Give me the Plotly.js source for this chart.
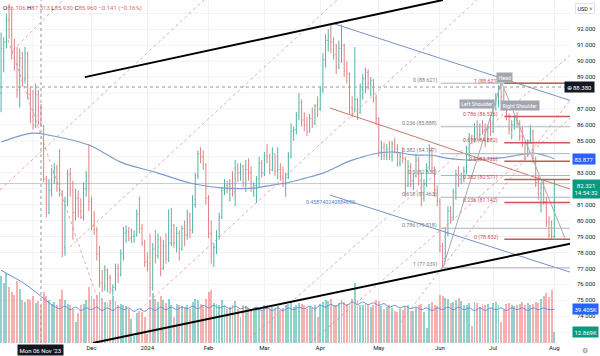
<!DOCTYPE html>
<html><head><meta charset="utf-8">
<script src="https://cdn.plot.ly/plotly-3.0.1.min.js"></script>
<style>html,body{margin:0;padding:0;background:#fff;}#chart{width:600px;height:356px;}</style>
</head><body><div id="chart"></div>
<script>
// ---------- DATA (daily bars from Mon 16 Oct 2023, weekdays) ----------
const openP = [
88.0,90.8,91.2,92.6,92.0,90.6,89.8,88.2,90.2,88.9,
90.5,87.9,86.5,86.0,87.9,86.106,85.9,82.6,80.5,81.9,
83.0,83.3,82.3,81.8,78.3,81.2,82.9,81.9,80.5,81.4,
80.6,80.2,82.0,82.8,81.2,79.7,79.4,77.9,76.1,75.9,
76.9,76.4,75.6,75.8,77.0,76.6,77.9,79.2,79.3,78.9,
79.0,79.1,80.4,79.5,78.6,77.4,77.3,75.8,78.2,77.8,
78.8,77.0,78.4,77.6,78.6,79.7,78.6,79.2,78.2,79.5,
79.1,80.4,79.4,81.0,82.8,84.2,84.0,83.5,81.4,79.2,
77.9,78.3,79.0,80.2,81.9,82.2,82.0,82.3,81.8,83.3,
83.0,83.4,82.4,83.2,83.0,82.0,82.2,82.6,83.6,83.0,
84.1,84.0,83.2,84.2,83.1,83.2,82.8,82.3,82.7,84.0,
85.6,85.7,86.6,87.4,86.3,86.0,85.6,86.4,86.1,87.2,
87.0,88.2,90.1,91.3,91.6,91.2,90.4,89.6,90.8,91.0,
89.4,89.2,87.1,87.0,87.6,86.8,88.2,88.9,89.3,88.6,
88.8,87.7,86.4,84.3,84.6,84.1,84.5,84.0,84.8,84.5,
83.6,84.0,83.9,82.2,83.4,82.5,82.8,83.8,82.5,81.4,
82.3,83.3,84.4,83.3,81.9,81.2,78.4,77.6,79.2,80.6,
80.2,81.8,82.9,82.6,82.8,83.1,84.5,85.2,85.1,85.9,
85.4,85.9,85.7,85.0,85.8,85.6,87.3,87.5,88.3,87.8,
87.2,86.6,85.7,86.0,86.3,86.1,85.3,84.9,84.2,85.0,
85.6,83.9,82.4,81.7,82.1,81.2,79.9,79.1,79.0];
const highP = [
91.8,91.5,93.0,93.6,93.3,91.4,90.9,90.8,90.6,90.9,
90.6,88.4,88.2,88.6,88.2,87.313,86.0,82.8,82.6,83.3,
83.6,83.5,84.5,81.9,81.5,83.2,83.3,82.5,82.0,81.9,
81.4,82.4,83.1,84.8,81.5,80.6,79.6,78.4,76.9,77.2,
77.0,76.6,76.0,77.3,77.3,78.2,79.6,79.7,79.6,79.5,
79.4,80.7,81.5,79.8,78.8,78.0,79.2,78.6,79.4,79.2,
79.0,78.8,79.2,80.7,80.8,79.8,79.6,79.4,79.7,80.0,
80.7,80.5,81.6,83.0,84.4,84.6,84.4,83.6,81.6,80.0,
78.6,79.4,80.5,82.1,82.6,82.5,82.6,83.1,83.8,83.6,
83.6,83.5,83.8,83.9,83.4,82.4,82.8,84.0,83.8,84.3,
84.8,84.2,84.6,84.2,84.6,83.6,83.4,83.0,84.3,86.1,
85.9,86.8,88.0,87.6,86.8,86.5,86.7,87.1,87.3,87.8,
88.4,90.5,91.7,92.0,92.4,91.5,91.1,91.3,92.3,91.1,
90.0,89.3,87.8,90.9,87.7,88.6,89.2,89.6,89.5,89.0,
88.9,87.9,86.5,85.0,84.9,84.8,85.0,85.0,85.2,84.8,
84.3,84.6,84.0,83.8,83.6,83.0,84.2,84.0,83.0,82.6,
83.6,84.8,84.6,83.4,82.2,81.4,78.6,79.6,80.9,80.9,
82.0,83.2,83.4,83.0,83.4,84.7,85.5,85.4,86.1,86.3,
86.1,86.3,86.1,86.0,86.5,87.6,88.0,88.5,88.621,88.3,
87.3,86.7,86.3,86.6,86.8,86.3,85.9,85.0,85.1,86.0,
85.7,84.0,82.8,82.4,82.6,81.5,80.3,80.0,82.6];
const lowP = [
86.8,89.3,90.8,91.4,90.1,89.4,87.7,87.1,88.4,88.6,
87.6,86.1,85.7,85.8,86.0,85.930,82.4,80.2,80.4,81.5,
82.3,81.8,81.5,77.7,77.8,80.9,81.5,78.8,80.0,80.2,
80.1,80.0,81.5,80.6,79.4,79.1,77.5,75.8,75.5,75.6,
75.5,75.4,75.3,75.6,76.1,76.5,77.5,78.6,78.7,78.6,
78.6,79.0,79.2,78.4,77.1,76.8,75.2,75.6,77.3,77.6,
76.5,76.9,77.3,77.4,78.4,78.3,78.0,77.5,78.1,78.4,
78.8,78.9,79.2,80.8,82.6,83.6,83.2,81.0,78.9,77.3,
77.1,77.9,78.8,80.1,81.6,81.7,81.2,81.5,80.9,82.4,
82.5,82.1,81.8,82.5,81.8,81.5,81.1,82.1,82.7,82.8,
83.6,82.9,83.1,82.8,82.6,82.5,82.1,81.5,82.6,83.9,
85.0,85.4,86.3,85.9,85.6,85.3,85.5,85.8,86.0,86.5,
86.9,88.0,89.6,90.6,90.5,90.1,89.2,89.5,89.9,89.0,
88.6,86.7,86.5,86.8,86.3,86.7,87.6,88.0,88.2,87.8,
87.4,86.0,84.0,83.8,83.8,83.8,83.8,83.7,84.2,83.4,
83.4,83.6,81.5,82.1,82.1,81.9,82.7,82.2,80.9,81.2,
82.1,83.2,83.0,81.5,80.9,78.0,77.039,77.4,79.0,79.8,
80.0,81.3,82.1,82.3,82.4,82.9,84.0,84.8,84.9,85.0,
85.0,85.4,84.6,84.9,85.3,85.5,86.9,87.1,87.5,86.9,
86.3,85.4,85.1,85.7,85.8,85.0,84.6,83.8,84.0,84.8,
83.6,82.1,81.3,80.5,81.0,79.6,78.9,78.832,78.9];
const closeP = [
90.8,91.2,92.6,92.0,90.6,89.8,88.2,90.2,88.9,90.5,
87.9,86.5,86.0,87.9,86.1,85.960,82.6,80.5,81.9,83.0,
83.3,82.3,81.9,78.3,81.2,82.9,81.9,80.5,81.4,80.6,
80.2,82.0,82.8,81.2,79.7,79.4,77.9,76.1,75.9,76.9,
76.4,75.6,75.8,77.0,76.6,77.9,79.2,79.3,78.9,79.0,
79.1,80.4,79.5,78.6,77.4,77.2,75.8,78.2,77.8,78.8,
77.0,78.4,77.6,78.6,79.7,78.6,79.2,78.2,79.5,79.1,
80.4,79.4,81.0,82.8,84.2,84.0,83.5,81.4,79.2,77.9,
78.3,79.0,80.2,81.9,82.2,82.0,82.3,81.8,83.3,83.0,
83.4,82.4,83.2,83.0,82.0,82.2,82.6,83.6,83.0,84.1,
84.0,83.2,84.2,83.1,83.2,82.8,82.3,82.7,84.0,85.6,
85.7,86.6,87.4,86.3,86.0,85.6,86.4,86.1,87.2,87.0,
88.2,90.1,91.3,91.6,91.2,90.4,89.6,90.8,91.0,89.4,
89.2,87.1,87.0,87.6,86.8,88.2,88.9,89.3,88.6,88.8,
87.7,86.4,84.3,84.6,84.1,84.5,84.0,84.8,84.5,83.6,
84.0,83.9,82.2,83.4,82.5,82.8,83.8,82.5,81.4,82.3,
83.3,84.4,83.3,81.9,81.2,78.4,77.6,79.2,80.6,80.2,
81.8,82.9,82.6,82.8,83.1,84.5,85.2,85.1,85.9,85.4,
85.9,85.7,85.0,85.8,85.6,87.3,87.5,88.3,87.8,87.2,
86.6,85.7,86.0,86.3,86.1,85.3,84.9,84.2,85.0,85.6,
83.9,82.4,81.7,82.1,81.2,79.9,79.1,79.0,82.321];
const volumeK = [
78,70,82,65,60,56,72,63,50,48,
52,50,55,47,49,45,60,55,50,46,
48,44,52,62,50,46,44,40,25,35,
44,46,50,65,55,52,56,60,53,48,
47,50,55,49,45,46,44,43,40,28,
8,35,38,36,30,10,50,58,52,48,
55,50,47,52,45,30,46,44,43,42,
45,40,48,52,50,46,44,52,60,62,
47,46,45,50,44,40,42,45,49,40,
30,44,43,41,40,38,42,41,39,45,
44,40,42,41,43,39,41,45,46,48,
42,44,47,46,45,40,42,41,44,30,
46,48,50,49,52,44,45,47,50,48,
46,47,52,70,50,44,45,47,46,42,
45,50,49,43,40,42,44,41,38,36,
40,39,42,44,38,37,41,44,46,36,
18,46,48,45,43,56,55,53,52,47,
48,50,53,49,44,45,47,20,48,47,
42,46,45,46,41,47,48,44,25,40,
46,47,45,43,44,46,48,44,47,45,
46,48,47,52,55,58,54,62,12.869];
// price moving average read at sample bars
const maIdx = [0,12,18,33,45,59,71,83,90,96,102,107,114,121,126,130,136,142,148,155,162,168,175,181,188,194,200,204,208];
const maVal = [84.93,85.49,85.36,84.74,83.67,82.98,82.36,82.05,82.0,82.05,82.23,82.36,82.65,82.98,83.35,83.67,84.0,84.24,84.3,84.12,84.1,83.9,83.8,83.85,83.93,84.1,84.24,84.1,83.877];
// volume moving average (K) read at sample bars
const vmaIdx = [0,4,8,12,16,18,20,22,24,26,28,30,32,34,36,38,40,42,44,46,48,50,52,54,56,58,60,62,64,66,68,70,72,74,76,78,80,82,84,86,88,90,92,94,96,98,100,102,104,106,108,110,112,114,116,118,120,122,124,126,128,130,132,134,136,138,140,142,144,146,148,150,152,154,156,158,160,162,164,166,168,170,172,174,176,178,180,182,184,186,188,190,192,194,196,198,200,202,204,206,208];
const vmaVal = [85,78,71,62,52,47,43,40,43,39,42,38,41,39,42,38,41,38,42,39,41,37,40,37,41,38,42,39,42,39,42,40,43,40,44,41,44,41,43,40,43,40,42,39,42,38,41,38,41,38,41,39,42,40,43,40,44,42,45,43,47,44,48,45,48,45,47,44,46,42,44,41,43,40,42,39,41,38,41,39,42,39,42,39,41,38,41,38,41,39,41,38,41,39,41,38,41,39,41,39,39.405];
const monthTickIdx = [34,55,78,99,120,142,165,185,208];
const monthTickText = ['Dec','2024','Feb','Mar','Apr','May','Jun','Jul','Aug'];
const priceTicks = [74,75,76,77,78,79,80,81,83,85,86,87,89,90,91,92];
const priceGrid = [73,74,75,76,77,78,79,80,81,82,83,84,85,86,87,88,89,90,91,92,93];
// drawings: [barIndexA, priceA, barIndexB, priceB]
const channelLines = [[31.5,89.0,166.1,93.84],[34.5,72.32,215,78.66]];
const blueLines = [[125.5,92.33,215,87.37],[123.7,81.6,215,76.6]];
const redTrend = [[123.7,87.06,215,81.8]];
const greyLines = [[166.1,77.039,188,88.621],[188.3,88.621,212,78.9]];
const dashedLines = [[-0.41,81.93,76.3,93.84],[25.9,78.35,126.3,93.84],[52.2,74.4,178.9,93.84],
  [91.7,72.32,225,92.9],[116.1,72.32,225,88.88],[150,73.58,214,87.57],[4.5,90.7,23.3,93.84],[2.6,91.33,36.4,75.03]];
const fibLevels = [0,0.236,0.382,0.5,0.618,0.786,1];
const fibLeft = {p0:88.621, p1:77.039, from:165.3, label:164.6};
const fibRight = {p0:78.832, p1:88.621, from:189.2, label:187.6};
const crossIdx = 15, crossPrice = 88.38;
const lastPrice = 82.321, lastMA = 83.877, lastVolMA = 39.405, lastVol = 12.869;

// ---------- helpers ----------
const DAY = 86400000, firstBar = Date.UTC(2023,9,16);
function weekdayMs(k){let d=firstBar,n=0;
  if(k>=0){while(n<k){d+=DAY;const w=new Date(d).getUTCDay();if(w!==0&&w!==6)n++;}}
  else{while(n>k){d-=DAY;const w=new Date(d).getUTCDay();if(w!==0&&w!==6)n--;}}
  return d;}
function tDate(t){const k=Math.floor(t);return new Date(weekdayMs(k)+(t-k)*DAY).toISOString().replace('T',' ').slice(0,19);}
const bx = i => tDate(i+0.5);
const xs = openP.map((_,i)=>bx(i));
const up = closeP.map((c,i)=>c>=openP[i]);

const FONT = "Roboto, 'Liberation Sans', sans-serif";
const shapes = [];
priceGrid.forEach(p=>shapes.push({type:'line',xref:'paper',yref:'y',x0:0,x1:1,y0:p,y1:p,line:{color:'#f0f2f6',width:1},layer:'below'}));
shapes.push({type:'line',xref:'x',yref:'paper',x0:bx(12),x1:bx(12),y0:0,y1:1,line:{color:'#f0f2f6',width:1},layer:'below'});
function seg(a,line){shapes.push({type:'line',xref:'x',yref:'y',x0:bx(a[0]),y0:a[1],x1:bx(a[2]),y1:a[3],line:line,layer:'above'});}
dashedLines.forEach(a=>seg(a,{color:'rgba(220,130,145,0.7)',width:1,dash:'3px,3px'}));
greyLines.forEach(a=>seg(a,{color:'#a5a9b0',width:1}));
blueLines.forEach(a=>seg(a,{color:'#7492c8',width:1}));
redTrend.forEach(a=>seg(a,{color:'#c9776d',width:1}));
shapes.push({type:'line',xref:'paper',yref:'y',x0:0,x1:1,y0:lastPrice,y1:lastPrice,line:{color:'rgba(120,150,170,0.5)',width:1},layer:'above'});
shapes.push({type:'line',xref:'paper',yref:'y',x0:0,x1:1,y0:crossPrice,y1:crossPrice,line:{color:'#9598a1',width:1,dash:'3px,3px'},layer:'above'});
shapes.push({type:'line',xref:'x',yref:'paper',x0:bx(crossIdx),x1:bx(crossIdx),y0:0,y1:1,line:{color:'#9598a1',width:1,dash:'3px,3px'},layer:'above'});
const annotations = [];
fibLevels.forEach(l=>{
  const pl = fibLeft.p0 + l*(fibLeft.p1-fibLeft.p0);
  seg([fibLeft.from,pl,216,pl],{color:'#b0b3ba',width:1});
  annotations.push({x:bx(fibLeft.label),y:pl,xref:'x',yref:'y',text:`${l} (${pl.toFixed(3)})`,showarrow:false,xanchor:'right',yanchor:'middle',yshift:3,font:{family:FONT,size:5.3,color:'#7a7d87'}});
});
annotations.push({x:bx(179),y:87.3,xref:'x',yref:'y',text:'Left Shoulder',showarrow:false,bgcolor:'#a3a6af',borderpad:1.2,font:{family:FONT,size:5.3,color:'#fff'}});
fibLevels.forEach(l=>{
  const pr = fibRight.p0 + l*(fibRight.p1-fibRight.p0);
  seg([fibRight.from,pr,216,pr],{color:'#cd5656',width:1.5});
  annotations.push({x:bx(fibRight.label),y:pr,xref:'x',yref:'y',text:`${l} (${pr.toFixed(3)})`,showarrow:false,xanchor:'right',yanchor:'middle',yshift:2,font:{family:FONT,size:5.3,color:'#c94c4c'}});
});
channelLines.forEach(a=>seg(a,{color:'#000',width:2}));
annotations.push({x:bx(189.4),y:89.0,xref:'x',yref:'y',text:'Head',showarrow:false,bgcolor:'#a3a6af',borderpad:1.5,font:{family:FONT,size:5.3,color:'#fff'}});
annotations.push({x:bx(195.1),y:87.25,xref:'x',yref:'y',text:'Right Shoulder',showarrow:false,bgcolor:'#a3a6af',borderpad:1.5,font:{family:FONT,size:5.3,color:'#fff'}});
annotations.push({x:bx(123.7),y:81.15,xref:'x',yref:'y',text:'0.458740240884690',showarrow:false,font:{family:FONT,size:5.3,color:'#5b7fc0'}});
annotations.push({x:0,y:1,xref:'paper',yref:'paper',xanchor:'left',yanchor:'top',xshift:1,yshift:-2,showarrow:false,
  text:'<span style="color:#131722">O</span>86.106 <span style="color:#131722">H</span>87.313 <span style="color:#131722">L</span>85.930 <span style="color:#131722">C</span>85.960 −0.141 (−0.16%)',
  font:{family:FONT,size:6,color:'#e0666a'}});
function rlabel(y,yref,text,bg,extra){annotations.push(Object.assign({x:1,y:y,xref:'paper',yref:yref,xanchor:'left',yanchor:'middle',xshift:2,showarrow:false,text:text,bgcolor:bg,borderpad:1.5,font:{family:FONT,size:6,color:'#fff'}},extra||{}));}
rlabel(crossPrice,'y','⊕ 88.380','#131722',{xshift:-6});
rlabel(lastMA,'y','83.877','#2962ff');
rlabel(lastPrice,'y','82.321<br>14:54:32','#089981',{yanchor:'top',yshift:5});
rlabel(lastVolMA,'y2','39.405K','#2962ff');
rlabel(lastVol,'y2','12.869K','#089981');
annotations.push({x:1,y:1,xref:'paper',yref:'paper',xanchor:'left',yanchor:'top',xshift:5,yshift:-3,showarrow:false,text:'USD ˅',bgcolor:'#fff',bordercolor:'#e0e3eb',borderwidth:1,borderpad:1.5,font:{family:FONT,size:5.5,color:'#131722'}});
annotations.push({x:bx(crossIdx),y:0,xref:'x',yref:'paper',yanchor:'top',yshift:-1,showarrow:false,text:"Mon 06 Nov '23",bgcolor:'#131722',borderpad:1.5,font:{family:FONT,size:6,color:'#fff'}});
annotations.push({x:1,y:0,xref:'paper',yref:'paper',xanchor:'left',yanchor:'top',xshift:10,yshift:-2,showarrow:false,text:'⚙',font:{family:'DejaVu Sans',size:7,color:'#787b86'}});

const traces = [
 {type:'bar',x:xs,y:volumeK,yaxis:'y2',width:0.72*DAY,marker:{color:up.map(u=>u?'rgba(38,166,154,0.5)':'rgba(239,83,80,0.45)'),line:{width:0}},hoverinfo:'skip'},
 {type:'scatter',mode:'lines',x:vmaIdx.map(bx),y:vmaVal,yaxis:'y2',line:{color:'#6a8fd8',width:1,shape:'spline'},hoverinfo:'skip'},
 {type:'scatter',mode:'lines',x:maIdx.map(bx),y:maVal,line:{color:'#7c9bcd',width:1.2,shape:'spline'},hoverinfo:'skip'},
 {type:'ohlc',x:xs,open:openP,high:highP,low:lowP,close:closeP,tickwidth:0.3,
  increasing:{line:{color:'#4fb3a6',width:1}},decreasing:{line:{color:'#e08282',width:1}},hoverinfo:'skip'}
];
const layout = {
 width:600,height:356,margin:{l:0,r:30,t:0,b:13},paper_bgcolor:'#fff',plot_bgcolor:'#fff',showlegend:false,
 font:{family:FONT,size:6,color:'#131722'},
 xaxis:{type:'date',range:[tDate(0.09),tDate(214.4)],rangebreaks:[{bounds:['sat','mon']}],rangeslider:{visible:false},
   tickvals:monthTickIdx.map(bx),ticktext:monthTickText,showgrid:true,gridcolor:'#f0f2f6',zeroline:false,showline:false,ticks:'',
   tickfont:{family:FONT,size:6,color:'#131722'},fixedrange:true},
 yaxis:{side:'right',range:[72.32,93.84],tickvals:priceTicks,tickformat:'.3f',showgrid:false,zeroline:false,showline:false,ticks:'',
   ticklabelstandoff:6,tickfont:{family:FONT,size:6,color:'#131722'},fixedrange:true},
 yaxis2:{overlaying:'y',range:[0,401],visible:false,fixedrange:true},
 bargap:0,shapes:shapes,annotations:annotations
};
Plotly.newPlot('chart',traces,layout,{displayModeBar:false,staticPlot:true});
</script></body></html>
